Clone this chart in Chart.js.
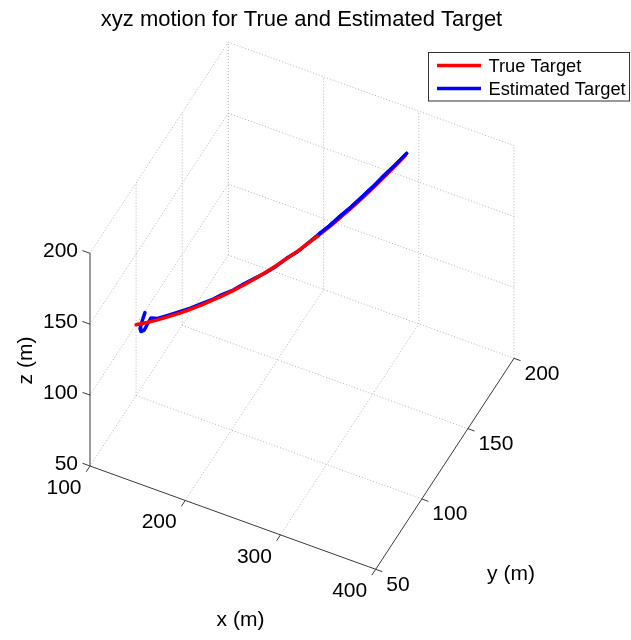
<!DOCTYPE html>
<html>
<head>
<meta charset="utf-8">
<script src="https://cdn.jsdelivr.net/npm/chart.js@4.4.1/dist/chart.umd.min.js"></script>
<style>
html, body { margin: 0; padding: 0; background: #fff; }
#wrap { width: 631px; height: 640px; }
</style>
</head>
<body>
<div id="wrap"><canvas id="myChart" width="631" height="640"></canvas></div>
<script>
// true target track (m)
var trueX = [100.0, 108.4, 116.8, 125.2, 133.6, 142.0, 150.4, 158.8, 167.2, 175.6, 184.0, 192.4, 200.8,
             209.2, 217.6, 226.0, 234.4, 242.8, 251.2, 259.6, 268.0, 276.4, 284.8, 293.2, 301.6, 310.0];
var trueY = [100, 103, 106, 109, 112, 115, 118, 121, 124, 127, 130, 133, 136,
             139, 142, 145, 148, 151, 154, 157, 160, 163, 166, 169, 172, 175];
var trueZ = [100.0, 100.7, 101.6, 102.9, 104.3, 106.1, 108.1, 110.4, 112.9, 115.7, 118.7, 122.0, 125.6,
             129.5, 133.6, 137.9, 142.6, 147.4, 152.6, 158.0, 163.7, 169.6, 175.8, 182.3, 189.0, 196.0];

// estimated target track (m)
var estX = [109.3, 106.7, 104.1, 105.1, 108.3, 111.4, 115.6, 116.8, 125.4, 133.4, 142.3, 150.2, 159.1, 167.0,
            175.8, 183.7, 192.6, 200.6, 209.4, 217.4, 226.3, 234.2, 243.1, 250.9, 259.9, 267.7, 276.8, 284.6,
            293.5, 301.9, 311.0];
var estY = [100.0, 100.0, 100.0, 100.0, 100.0, 100.0, 100.0, 106.0, 109.1, 111.9, 115.2, 117.9, 121.1, 123.9,
            127.1, 130.1, 132.9, 136.1, 139.1, 141.9, 145.1, 147.9, 151.1, 153.8, 157.2, 159.9, 163.2, 165.8,
            169.1, 172.2, 175.5];
var estZ = [110.8, 105.0, 98.4, 96.5, 98.0, 102.6, 108.6, 102.6, 103.9, 105.4, 106.9, 109.0, 111.1, 113.8,
            116.0, 119.2, 122.6, 125.1, 129.1, 133.8, 137.6, 142.7, 148.3, 153.0, 159.2, 164.3, 170.9, 176.6,
            183.7, 189.9, 197.2];

var xTicks = [100, 200, 300, 400];
var yTicks = [50, 100, 150, 200];
var zTicks = [50, 100, 150, 200];

// where the box lands on the canvas (view az ~ 26, el ~ 48)
var origin = [90, 466];      // (xmin, ymin, zmin)
var xDir = [285.7, 103.3];   // full x range
var yDir = [138.3, -211];    // full y range
var zDir = [0, -212.7];      // full z range

var x0 = xTicks[0], x1 = xTicks[xTicks.length - 1];
var y0 = yTicks[0], y1 = yTicks[yTicks.length - 1];
var z0 = zTicks[0], z1 = zTicks[zTicks.length - 1];

function proj(x, y, z) {
    var u = (x - x0) / (x1 - x0), v = (y - y0) / (y1 - y0), w = (z - z0) / (z1 - z0);
    return {
        x: origin[0] + u * xDir[0] + v * yDir[0] + w * zDir[0],
        y: origin[1] + u * xDir[1] + v * yDir[1] + w * zDir[1]
    };
}

function track(xs, ys, zs) {
    return xs.map(function (x, i) { return proj(x, ys[i], zs[i]); });
}

var FONT = '"Liberation Sans", Arial, sans-serif';

function unit(v, len) {
    var n = Math.sqrt(v[0] * v[0] + v[1] * v[1]);
    return [v[0] / n * len, v[1] / n * len];
}

var box3d = {
    id: 'box3d',
    beforeDatasetsDraw: function (chart) {
        var ctx = chart.ctx, sx = chart.scales.x, sy = chart.scales.y;
        function pt(x, y, z) {
            var p = proj(x, y, z);
            return [sx.getPixelForValue(p.x), sy.getPixelForValue(p.y)];
        }
        function seg(a, b) {
            var p = pt(a[0], a[1], a[2]), q = pt(b[0], b[1], b[2]);
            ctx.moveTo(p[0], p[1]);
            ctx.lineTo(q[0], q[1]);
        }
        ctx.save();

        // dotted grid on the back planes
        ctx.strokeStyle = '#b4b4b4';
        ctx.lineWidth = 1;
        ctx.setLineDash([1, 2]);
        ctx.beginPath();
        zTicks.forEach(function (z) { seg([x0, y0, z], [x0, y1, z]); });
        yTicks.slice(1).forEach(function (y) { seg([x0, y, z0], [x0, y, z1]); });
        zTicks.forEach(function (z) { seg([x0, y1, z], [x1, y1, z]); });
        xTicks.slice(1).forEach(function (x) { seg([x, y1, z0], [x, y1, z1]); });
        xTicks.slice(1, -1).forEach(function (x) { seg([x, y0, z0], [x, y1, z0]); });
        yTicks.slice(1, -1).forEach(function (y) { seg([x0, y, z0], [x1, y, z0]); });
        ctx.stroke();

        // axis lines and ticks
        ctx.setLineDash([]);
        ctx.strokeStyle = '#3a3a3a';
        ctx.beginPath();
        seg([x0, y0, z0], [x1, y0, z0]);
        seg([x1, y0, z0], [x1, y1, z0]);
        seg([x0, y0, z0], [x0, y0, z1]);
        var tx = unit([-yDir[0], -yDir[1]], 7);
        var ty = unit(xDir, 7);
        var tz = unit([-xDir[0], -xDir[1]], 8);
        xTicks.forEach(function (x) {
            var p = pt(x, y0, z0); ctx.moveTo(p[0], p[1]); ctx.lineTo(p[0] + tx[0], p[1] + tx[1]);
        });
        yTicks.forEach(function (y) {
            var p = pt(x1, y, z0); ctx.moveTo(p[0], p[1]); ctx.lineTo(p[0] + ty[0], p[1] + ty[1]);
        });
        zTicks.forEach(function (z) {
            var p = pt(x0, y0, z); ctx.moveTo(p[0], p[1]); ctx.lineTo(p[0] + tz[0], p[1] + tz[1]);
        });
        ctx.stroke();

        // tick labels
        ctx.fillStyle = '#000';
        ctx.font = '21px ' + FONT;
        ctx.textBaseline = 'middle';
        ctx.textAlign = 'right';
        xTicks.forEach(function (x) {
            var p = pt(x, y0, z0); ctx.fillText(String(x), p[0] - 8.5, p[1] + 22);
        });
        zTicks.forEach(function (z) {
            var p = pt(x0, y0, z); ctx.fillText(String(z), p[0] - 12, p[1] - 2);
        });
        ctx.textAlign = 'left';
        yTicks.forEach(function (y) {
            var p = pt(x1, y, z0); ctx.fillText(String(y), p[0] + 10.5, p[1] + 15.5);
        });

        // axis titles
        ctx.textAlign = 'center';
        ctx.fillText('x (m)', 240.5, 620);
        ctx.fillText('y (m)', 511, 574);
        ctx.save();
        ctx.translate(26.5, 360.5);
        ctx.rotate(-Math.PI / 2);
        ctx.fillText('z (m)', 0, 0);
        ctx.restore();

        // title
        ctx.font = '22px ' + FONT;
        ctx.fillText('xyz motion for True and Estimated Target', 301.5, 20);
        ctx.restore();
    },
    afterDraw: function (chart) {
        var ctx = chart.ctx;
        ctx.save();
        ctx.fillStyle = '#fff';
        ctx.fillRect(428.5, 52.5, 201, 48.5);
        ctx.strokeStyle = '#333';
        ctx.lineWidth = 1;
        ctx.strokeRect(428.5, 52.5, 201, 48.5);
        var items = [['True Target', '#ff0000', 65.5], ['Estimated Target', '#0000ff', 88.5]];
        ctx.font = '18.3px ' + FONT;
        ctx.textBaseline = 'middle';
        ctx.textAlign = 'left';
        items.forEach(function (it) {
            ctx.strokeStyle = it[1];
            ctx.lineWidth = 3.5;
            ctx.beginPath();
            ctx.moveTo(437, it[2]);
            ctx.lineTo(481, it[2]);
            ctx.stroke();
            ctx.fillStyle = '#000';
            ctx.fillText(it[0], 488.5, it[2] + 1);
        });
        ctx.restore();
    }
};

var estPts = track(estX, estY, estZ);
var frontFrom = 22; // from here the estimate sits in front of the true track

var ctx = document.getElementById('myChart').getContext('2d');
var chart = new Chart(ctx, {
    type: 'scatter',
    data: {
        datasets: [{
            label: 'Estimated Target',
            data: estPts,
            showLine: true,
            borderColor: '#0000ff',
            borderWidth: 3.5,
            pointRadius: 0,
            borderCapStyle: 'round',
            borderJoinStyle: 'round',
            order: 3
        },
        {
            label: 'True Target',
            data: track(trueX, trueY, trueZ),
            showLine: true,
            borderColor: '#ff0000',
            borderWidth: 3.5,
            pointRadius: 0,
            borderCapStyle: 'round',
            borderJoinStyle: 'round',
            order: 2
        },
        {
            label: 'Estimated Target (front)',
            data: estPts.slice(frontFrom),
            showLine: true,
            borderColor: '#0000ff',
            borderWidth: 3.5,
            pointRadius: 0,
            borderCapStyle: 'round',
            borderJoinStyle: 'round',
            order: 1
        }]
    },
    options: {
        responsive: false,
        devicePixelRatio: 1,
        animation: false,
        layout: { padding: 0 },
        scales: {
            x: { type: 'linear', min: 0, max: 631, display: false },
            y: { type: 'linear', min: 0, max: 640, reverse: true, display: false }
        },
        plugins: {
            legend: { display: false },
            title: { display: false },
            tooltip: { enabled: false }
        }
    },
    plugins: [box3d]
});
</script>
</body>
</html>
